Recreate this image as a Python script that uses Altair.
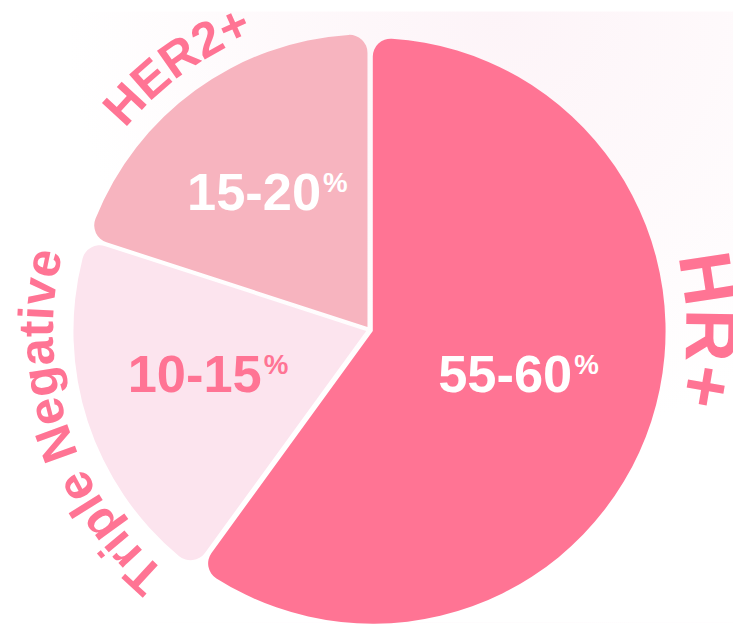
import math
import altair as alt
import pandas as pd

# ---------------- data ----------------
categories = ["HR+", "Triple Negative", "HER2+"]
shares = [60, 20, 20]                      # slice sizes
range_labels = ["55-60", "10-15", "15-20"]
suffix = "%"

# ---------------- style / layout ----------------
slice_colors = ["#FF7494", "#FCE4EE", "#F7B4BF"]
label_colors = ["#FFFFFF", "#FF7494", "#FFFFFF"]
outer_color = "#FF7494"
FONT = "Liberation Sans"

W, H = 733, 618
CX, CY = 365.5, 322.0          # pie centre inside the view
R = 296                        # pie radius
EXPLODE = 3.5                  # outward shift of every slice (makes the white gaps)
CORNER = 18
LABEL_R = 165
LABEL_CX, LABEL_CY = CX - 8, CY - 7
OUTER_R = 320                  # baseline radius of the curved names
OUTER_SIZE = {"HR+": 74, "Triple Negative": 50, "HER2+": 50}
OUTER_ANGLE_OVERRIDE = {"HR+": 90.0}

# Arial/Liberation Sans Bold advance widths (em)
ADV = {"H": 0.722, "R": 0.722, "+": 0.584, "E": 0.667, "2": 0.556, "T": 0.611,
       "r": 0.389, "i": 0.278, "p": 0.611, "l": 0.278, "e": 0.556, " ": 0.278,
       "N": 0.722, "g": 0.611, "a": 0.556, "t": 0.333, "v": 0.556}

df = pd.DataFrame({
    "category": categories,
    "share": shares,
    "range": range_labels,
    "suffix": [suffix] * len(categories),
    "tcolor": label_colors,
    "order": list(range(len(categories))),
})

# curved outer names, one row per character, placed along the circle
total = sum(shares)
rows = []
cum = 0.0
for cat, s in zip(categories, shares):
    mid_deg = 360.0 * (cum + s / 2) / total
    cum += s
    anchor = math.radians(OUTER_ANGLE_OVERRIDE.get(cat, mid_deg))
    fs = OUTER_SIZE[cat]
    widths = [ADV.get(ch, 0.55) * fs for ch in cat]
    tot_w = sum(widths)
    pos = 0.0
    for ch, w in zip(cat, widths):
        centre = pos + w / 2 - tot_w / 2
        pos += w
        th = anchor + centre / OUTER_R
        rows.append({
            "label": cat, "char": ch, "size": fs,
            "px": CX + OUTER_R * math.sin(th),
            "py": CY - OUTER_R * math.cos(th),
            "deg": math.degrees(th) % 360,
        })
chars = pd.DataFrame(rows)

base = (
    alt.Chart(df)
    .transform_joinaggregate(total="sum(share)")
    .transform_window(cum="sum(share)", sort=[alt.SortField("order")], frame=[None, 0])
    .transform_calculate(
        mid="2*PI*(datum.cum - datum.share/2)/datum.total",
    )
    .transform_calculate(
        ex=f"{CX} + {EXPLODE}*sin(datum.mid)",
        ey=f"{CY} - {EXPLODE}*cos(datum.mid)",
        lx=f"{LABEL_CX} + {LABEL_R}*sin(datum.mid)",
        ly=f"{LABEL_CY} - {LABEL_R}*cos(datum.mid)",
    )
)

bg = alt.Chart(alt.Data(values=[{}])).mark_rect(
    color=alt.RadialGradient(
        gradient="radial",
        stops=[alt.GradientStop(color="#FDF4F8", offset=0),
               alt.GradientStop(color="#FEF9FB", offset=0.5),
               alt.GradientStop(color="#FFFFFF", offset=1)],
        x1=0.68, y1=0.08, x2=0.68, y2=0.08, r1=0, r2=0.6,
    )
).encode(x=alt.value(0), x2=alt.value(W), y=alt.value(0), y2=alt.value(H))

arcs = base.mark_arc(outerRadius=R, cornerRadius=CORNER).encode(
    theta=alt.Theta("share:Q", stack=True),
    order=alt.Order("order:Q"),
    color=alt.Color("category:N", scale=alt.Scale(domain=categories, range=slice_colors), legend=None),
    x=alt.X("ex:Q", scale=None),
    y=alt.Y("ey:Q", scale=None),
)

nums = base.mark_text(font=FONT, fontWeight="bold", fontSize=53, align="right",
                      baseline="alphabetic", dx=56, dy=19).encode(
    x=alt.X("lx:Q", scale=None),
    y=alt.Y("ly:Q", scale=None),
    text="range:N",
    color=alt.Color("tcolor:N", scale=None),
)

pcts = base.mark_text(font=FONT, fontWeight="bold", fontSize=28, align="left",
                      baseline="alphabetic", dx=58, dy=1).encode(
    x=alt.X("lx:Q", scale=None),
    y=alt.Y("ly:Q", scale=None),
    text="suffix:N",
    color=alt.Color("tcolor:N", scale=None),
)

outer = alt.Chart(chars).mark_text(font=FONT, fontWeight="bold", align="center",
                                   baseline="alphabetic", color=outer_color).encode(
    x=alt.X("px:Q", scale=None),
    y=alt.Y("py:Q", scale=None),
    angle=alt.Angle("deg:Q", scale=None),
    size=alt.Size("size:Q", scale=None),
    text="char:N",
)

chart = (
    alt.layer(bg, arcs, nums, pcts, outer)
    .properties(width=W, height=H, padding=0, autosize=alt.AutoSizeParams(type="none"),
                background="#FFFFFF")
    .configure_view(stroke=None)
)

chart.save("out.html", embed_options={"renderer": "svg", "actions": False})
